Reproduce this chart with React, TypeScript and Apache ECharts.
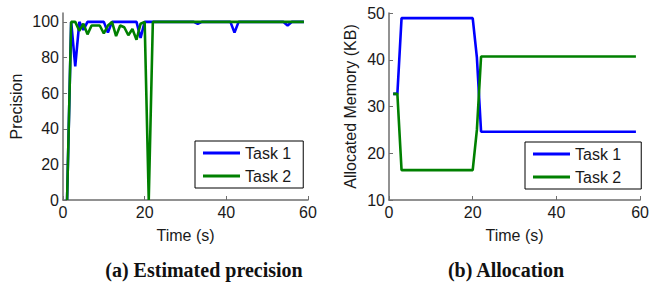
import React, { useEffect, useRef } from "react";
import * as echarts from "echarts";

const timeSec = [
  1, 2, 3, 4, 5, 6, 7, 8, 9, 10, 11, 12, 13, 14, 15, 16, 17, 18, 19, 20,
  21, 22, 23, 24, 25, 26, 27, 28, 29, 30, 31, 32, 33, 34, 35, 36, 37, 38, 39, 40,
  41, 42, 43, 44, 45, 46, 47, 48, 49, 50, 51, 52, 53, 54, 55, 56, 57, 58, 59,
];

const precisionTask1 = [
  0, 100, 75, 100, 95.5, 100, 100, 100, 100, 100, 94, 100, 100, 100, 100, 100, 100, 100, 91, 100,
  100, 100, 100, 100, 100, 100, 100, 100, 100, 100, 100, 100, 99, 100, 100, 100, 100, 100, 100, 100,
  100, 94, 100, 100, 100, 100, 100, 100, 100, 100, 100, 100, 100, 100, 98, 100, 100, 100, 100,
];

const precisionTask2 = [
  0, 100, 100, 95, 99, 93, 98, 98, 98, 93.5, 98, 100, 92, 98, 97, 92.5, 96, 90, 99, 100,
  0, 100, 100, 100, 100, 100, 100, 100, 100, 100, 100, 100, 100, 100, 100, 100, 100, 100, 100, 100,
  100, 100, 100, 100, 100, 100, 100, 100, 100, 100, 100, 100, 100, 100, 100, 100, 100, 100, 100,
];

const memoryTask1 = [
  32.7, 32.7, 48.9, 48.9, 48.9, 48.9, 48.9, 48.9, 48.9, 48.9, 48.9, 48.9, 48.9, 48.9, 48.9, 48.9, 48.9, 48.9, 48.9, 48.9,
  40.5, 24.6, 24.6, 24.6, 24.6, 24.6, 24.6, 24.6, 24.6, 24.6, 24.6, 24.6, 24.6, 24.6, 24.6, 24.6, 24.6, 24.6, 24.6, 24.6,
  24.6, 24.6, 24.6, 24.6, 24.6, 24.6, 24.6, 24.6, 24.6, 24.6, 24.6, 24.6, 24.6, 24.6, 24.6, 24.6, 24.6, 24.6, 24.6,
];

const memoryTask2 = [
  32.7, 32.7, 16.4, 16.4, 16.4, 16.4, 16.4, 16.4, 16.4, 16.4, 16.4, 16.4, 16.4, 16.4, 16.4, 16.4, 16.4, 16.4, 16.4, 16.4,
  25, 40.7, 40.7, 40.7, 40.7, 40.7, 40.7, 40.7, 40.7, 40.7, 40.7, 40.7, 40.7, 40.7, 40.7, 40.7, 40.7, 40.7, 40.7, 40.7,
  40.7, 40.7, 40.7, 40.7, 40.7, 40.7, 40.7, 40.7, 40.7, 40.7, 40.7, 40.7, 40.7, 40.7, 40.7, 40.7, 40.7, 40.7, 40.7,
];

const seriesNames = ["Task 1", "Task 2"];
const xTicks = [0, 20, 40, 60];
const precisionTicks = [0, 20, 40, 60, 80, 100];
const memoryTicks = [10, 20, 30, 40, 50];
const captions = ["(a) Estimated precision", "(b) Allocation"];

const BLUE = "#0000ff";
const GREEN = "#008000";
const AXIS = "#6e6e6e";
const TEXT = "#1a1a1a";
const FONT = '"Liberation Sans", Arial, sans-serif';

const pairs = (ys: number[]) => timeSec.map((t, i) => [t, ys[i]]);

export default function App() {
  const ref = useRef<HTMLDivElement>(null);
  useEffect(() => {
    document.body.style.margin = "0";
    const chart = echarts.init(ref.current!, undefined, { renderer: "svg" });

    const axisCommon = {
      axisLine: { show: true, lineStyle: { color: AXIS, width: 1.5 } },
      axisTick: { show: true, inside: true, length: 4, lineStyle: { color: AXIS } },
      splitLine: { show: false },
      axisLabel: { color: TEXT, fontSize: 16, fontFamily: FONT, margin: 4 },
      nameTextStyle: { color: TEXT, fontSize: 16, fontFamily: FONT },
    };

    const xAxisDef = (gridIndex: number) => ({
      ...axisCommon,
      type: "value",
      gridIndex,
      min: 0,
      max: 60,
      interval: 20,
      name: "Time (s)",
      nameLocation: "middle",
      nameGap: 27,
      axisLabel: { ...axisCommon.axisLabel, customValues: xTicks },
      axisTick: { ...axisCommon.axisTick, customValues: xTicks },
    });

    const legendDef = (left: number, top: number, padRight: number) => ({
      data: seriesNames,
      orient: "vertical",
      left,
      top,
      icon: "rect",
      itemWidth: 37,
      itemHeight: 3,
      itemGap: 7,
      backgroundColor: "#fff",
      borderColor: "#000",
      borderWidth: 1,
      padding: [4, padRight, 4, 8],
      textStyle: { color: TEXT, fontSize: 16, fontFamily: FONT },
      selectedMode: false,
    });

    chart.setOption({
      animation: false,
      backgroundColor: "#fff",
      grid: [
        { left: 63, top: 13, width: 245, height: 187 },
        { left: 389, top: 13, width: 252, height: 187 },
      ],
      xAxis: [xAxisDef(0), xAxisDef(1)],
      yAxis: [
        {
          ...axisCommon,
          type: "value",
          gridIndex: 0,
          min: 0,
          max: 105,
          interval: 20,
          name: "Precision",
          nameLocation: "middle",
          nameGap: 39,
          axisLabel: { ...axisCommon.axisLabel, customValues: precisionTicks },
          axisTick: { ...axisCommon.axisTick, customValues: precisionTicks },
        },
        {
          ...axisCommon,
          type: "value",
          gridIndex: 1,
          min: 10,
          max: 50,
          interval: 10,
          name: "Allocated Memory (KB)",
          nameLocation: "middle",
          nameGap: 31,
          axisLabel: { ...axisCommon.axisLabel, customValues: memoryTicks },
          axisTick: { ...axisCommon.axisTick, customValues: memoryTicks },
        },
      ],
      legend: [legendDef(195, 141, 12), legendDef(525, 142, 20)],
      series: [
        {
          name: seriesNames[0], type: "line", xAxisIndex: 0, yAxisIndex: 0,
          data: pairs(precisionTask1), symbol: "none", color: BLUE,
          lineStyle: { color: BLUE, width: 2.6 }, z: 2,
        },
        {
          name: seriesNames[1], type: "line", xAxisIndex: 0, yAxisIndex: 0,
          data: pairs(precisionTask2), symbol: "none", color: GREEN,
          lineStyle: { color: GREEN, width: 2.6 }, z: 3,
        },
        {
          name: seriesNames[0], type: "line", xAxisIndex: 1, yAxisIndex: 1,
          data: pairs(memoryTask1), symbol: "none", color: BLUE,
          lineStyle: { color: BLUE, width: 2.6 }, z: 2,
        },
        {
          name: seriesNames[1], type: "line", xAxisIndex: 1, yAxisIndex: 1,
          data: pairs(memoryTask2), symbol: "none", color: GREEN,
          lineStyle: { color: GREEN, width: 2.6 }, z: 3,
        },
      ],
      graphic: [
        {
          type: "text", x: 204, y: 270,
          style: {
            text: captions[0], fill: "#111", font: 'bold 20px "Liberation Serif", serif',
            textAlign: "center", textVerticalAlign: "middle",
          },
        },
        {
          type: "text", x: 506, y: 270,
          style: {
            text: captions[1], fill: "#111", font: 'bold 20px "Liberation Serif", serif',
            textAlign: "center", textVerticalAlign: "middle",
          },
        },
      ],
    });
    return () => chart.dispose();
  }, []);
  return <div ref={ref} style={{ width: 652, height: 282 }} />;
}
